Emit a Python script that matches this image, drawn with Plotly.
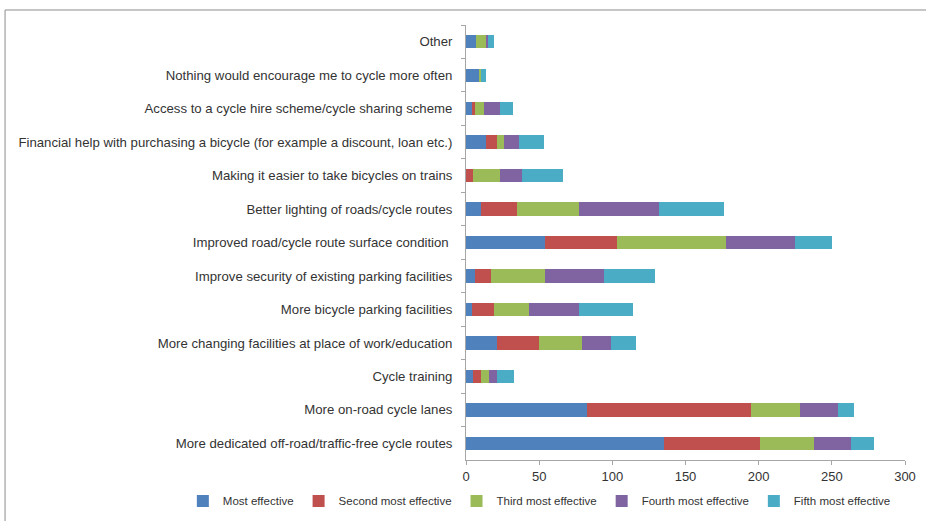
import plotly.graph_objects as go

categories = [
    "Other",
    "Nothing would encourage me to cycle more often",
    "Access to a cycle hire scheme/cycle sharing scheme",
    "Financial help with purchasing a bicycle (for example a discount, loan etc.)",
    "Making it easier to take bicycles on trains",
    "Better lighting of roads/cycle routes",
    "Improved road/cycle route surface condition ",
    "Improve security of existing parking facilities",
    "More bicycle parking facilities",
    "More changing facilities at place of work/education",
    "Cycle training",
    "More on-road cycle lanes",
    "More dedicated off-road/traffic-free cycle routes",
]

most_effective = [7, 9, 4, 14, 0, 10, 54, 6, 4, 21, 5, 83, 135]
second_most = [0, 0, 2, 7, 5, 25, 49, 11, 15, 29, 5, 112, 66]
third_most = [7, 1, 6, 5, 18, 42, 75, 37, 24, 29, 6, 33, 37]
fourth_most = [1, 0, 11, 10, 15, 55, 47, 40, 34, 20, 5, 26, 25]
fifth_most = [4, 4, 9, 17, 28, 44, 25, 35, 37, 17, 12, 11, 16]

series_names = ["Most effective", "Second most effective", "Third most effective",
                "Fourth most effective", "Fifth most effective"]
series_values = [most_effective, second_most, third_most, fourth_most, fifth_most]
colors = ["#4F81BD", "#C0504D", "#9BBB59", "#8064A2", "#4BACC6"]

x_ticks = [0, 50, 100, 150, 200, 250, 300]

fig = go.Figure()
for name, vals, col in zip(series_names, series_values, colors):
    fig.add_trace(go.Bar(
        y=categories, x=vals, name=name, orientation="h",
        marker=dict(color=col, line=dict(width=0)),
    ))

font_family = "Liberation Sans, Arial, sans-serif"

fig.update_layout(
    barmode="stack",
    bargap=0.6,
    width=926, height=521,
    margin=dict(l=466, r=21, t=25, b=61, autoexpand=False),
    paper_bgcolor="white",
    plot_bgcolor="white",
    font=dict(family=font_family, size=12, color="#333333"),
    showlegend=True,
    legend=dict(
        orientation="h", traceorder="normal",
        xref="paper", yref="paper",
        x=-0.645, xanchor="left", y=-0.094, yanchor="middle",
        font=dict(size=11.5, color="#333333"),
        itemwidth=30, tracegroupgap=0,
        bgcolor="rgba(0,0,0,0)",
    ),
    xaxis=dict(
        range=[0, 300], tickvals=x_ticks, ticktext=[str(v) for v in x_ticks],
        showgrid=False, zeroline=False,
        showline=True, linecolor="#A6A6A6", linewidth=1,
        ticks="outside", ticklen=4, tickcolor="#A6A6A6",
        tickfont=dict(size=13, color="#333333"),
    ),
    yaxis=dict(
        autorange="reversed", showgrid=False,
        showline=True, linecolor="#A6A6A6", linewidth=1,
        ticks="outside", ticklen=4, tickcolor="#A6A6A6", tickson="boundaries",
        tickfont=dict(size=13.2, color="#333333"),
        ticklabelstandoff=10,
    ),
    shapes=[dict(
        type="rect", xref="paper", yref="paper",
        x0=-1.05, x1=1.2, y0=-0.3, y1=1.0345,
        line=dict(color="#8C8C8C", width=1), fillcolor="rgba(0,0,0,0)", layer="below",
    )],
)

fig.write_html("out.html")
